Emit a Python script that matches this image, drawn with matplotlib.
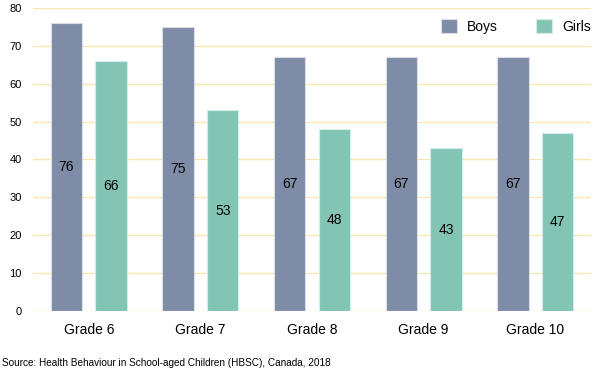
import matplotlib.pyplot as plt
import numpy as np

plt.rcParams['font.family'] = ['Liberation Sans', 'DejaVu Sans']

grades = ["Grade 6", "Grade 7", "Grade 8", "Grade 9", "Grade 10"]
boys = [76, 75, 67, 67, 67]
girls = [66, 53, 48, 43, 47]

boys_color = "#7f8ca7"
girls_color = "#83c5b5"

fig = plt.figure(figsize=(6, 3.76), dpi=100)
ax = fig.add_axes([0.055, 0.173, 0.93, 0.806])

x = np.arange(len(grades))
w = 0.28
b1 = ax.bar(x - 0.2, boys, w, color=boys_color, edgecolor="#d8dde6", linewidth=0.8, label="Boys", zorder=3)
b2 = ax.bar(x + 0.2, girls, w, color=girls_color, edgecolor="#d5ece6", linewidth=0.8, label="Girls", zorder=3)

for bars, vals in ((b1, boys), (b2, girls)):
    for r, v in zip(bars, vals):
        ax.text(r.get_x() + r.get_width() / 2, v / 2, str(v), ha="center", va="center",
                fontsize=10, color="black", zorder=4)

ax.set_xlim(-0.5, 4.5)
ax.set_ylim(0, 80)
ax.set_yticks(range(0, 81, 10))
ax.set_xticks(x)
ax.set_xticklabels(grades, fontsize=10)
ax.tick_params(axis="y", labelsize=8, length=0, pad=8)
ax.tick_params(axis="x", length=0, pad=9)
ax.grid(axis="y", color="#f6e7b4", linewidth=1, zorder=0)
for s in ax.spines.values():
    s.set_visible(False)

leg = ax.legend(loc="center right", ncol=2, frameon=False, fontsize=10,
                bbox_to_anchor=(1.0, 0.939), borderaxespad=0, borderpad=0,
                handlelength=1.15, handleheight=1.2,
                columnspacing=2.8, handletextpad=0.72)

fig.text(0.003, 0.02, "Source: Health Behaviour in School-aged Children (HBSC), Canada, 2018",
         fontsize=7.2, ha="left", va="bottom")

fig.savefig("out.png", dpi=100)
